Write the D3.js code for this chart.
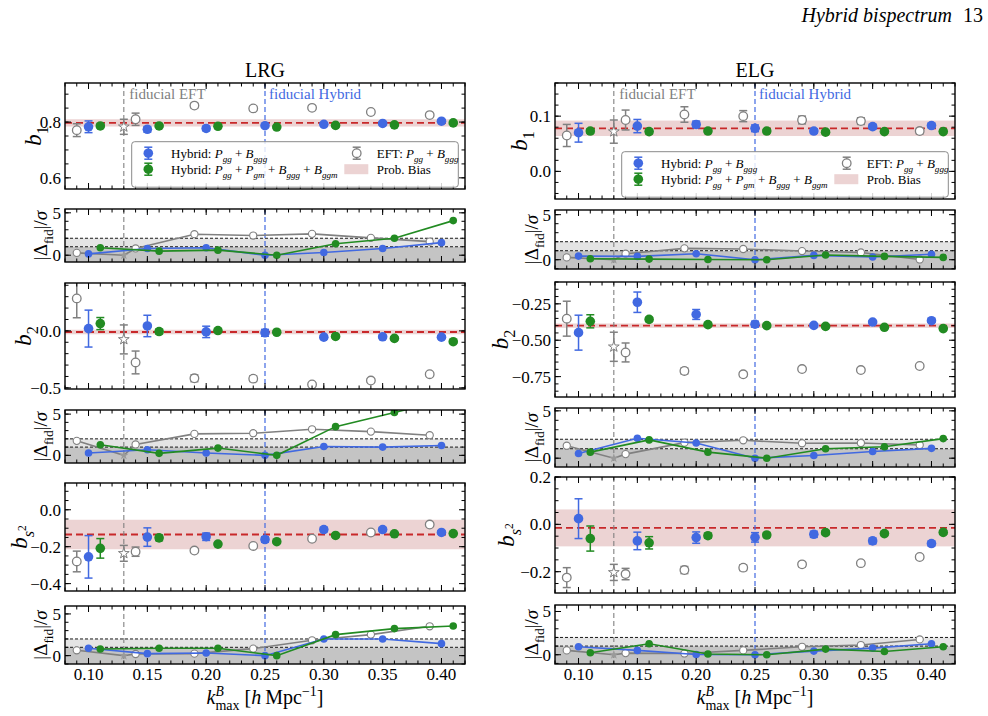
<!DOCTYPE html>
<html>
<head>
<meta charset="utf-8">
<script src="https://cdn.jsdelivr.net/npm/d3@7"></script>
<style>
  body { margin: 0; background: #fff; }
  text { font-family: "Liberation Serif", "DejaVu Serif", serif; }
</style>
</head>
<body>
<div id="chart"></div>
<script>
var W = 988, H = 716;

// k_max values of each series
var kBlue  = [0.10, 0.15, 0.20, 0.25, 0.30, 0.35, 0.40];
var kGreen = [0.11, 0.16, 0.21, 0.26, 0.31, 0.36, 0.41];
var kEft   = [0.09, 0.14, 0.19, 0.24, 0.29, 0.34, 0.39];
var kFidEft = 0.13, kFidHybrid = 0.25;
var xMajorTicks = [0.10, 0.15, 0.20, 0.25, 0.30, 0.35, 0.40];
var xTickLabels = ["0.10", "0.15", "0.20", "0.25", "0.30", "0.35", "0.40"];

// ---- LRG ----
var lrgB1Blue     = [0.783, 0.774, 0.777, 0.787, 0.792, 0.795, 0.803];
var lrgB1BlueErr  = [0.021, 0.010, 0.008, 0.006, 0.005, 0.005, 0.004];
var lrgB1Green    = [0.786, 0.786, 0.785, 0.782, 0.788, 0.790, 0.797];
var lrgB1GreenErr = [0.006, 0.005, 0.005, 0.004, 0.004, 0.004, 0.003];
var lrgB1Eft      = [0.771, 0.810, 0.859, 0.849, 0.851, 0.836, 0.825];
var lrgB1EftErr   = [0.023, 0.022, 0.008, 0.008, 0.006, 0.005, 0.004];
var lrgB1Star = [0.783, 0.027];
var lrgB1Prob = [0.797, 0.013];
var lrgB1DBlue  = [0.16, 0.80, 0.88, 0, 0.32, 0.80, 1.48];
var lrgB1DGreen = [0.88, 0.48, 0.60, 0, 1.36, 2.00, 4.08];
var lrgB1DEft   = [0.28, 0.80, 2.48, 2.32, 2.52, 2.04, 1.60];

var lrgB2Blue     = [0.020, 0.043, -0.009, -0.017, -0.055, -0.052, -0.055];
var lrgB2BlueErr  = [0.162, 0.094, 0.050, 0.030, 0.015, 0.015, 0.012];
var lrgB2Green    = [0.064, -0.006, 0.003, -0.012, -0.049, -0.066, -0.095];
var lrgB2GreenErr = [0.053, 0.020, 0.012, 0.010, 0.010, 0.010, 0.010];
var lrgB2Eft      = [0.285, -0.277, -0.416, -0.419, -0.470, -0.436, -0.380];
var lrgB2EftErr   = [0.170, 0.100, 0.030, 0.025, 0.015, 0.015, 0.012];
var lrgB2Star = [-0.075, 0.127];
var lrgB2Prob = [-0.010, 0.020];
var lrgB2DBlue  = [0.28, 0.68, 0.28, 0, 1.08, 1.00, 1.20];
var lrgB2DGreen = [1.28, 0.24, 0.88, 0, 3.48, 5.20, 6.90];
var lrgB2DEft   = [1.76, 1.32, 2.60, 2.68, 3.16, 2.88, 2.44];

var lrgBs2Blue     = [-0.255, -0.148, -0.146, -0.161, -0.107, -0.107, -0.123];
var lrgBs2BlueErr  = [0.115, 0.050, 0.020, 0.015, 0.012, 0.010, 0.008];
var lrgBs2Green    = [-0.209, -0.152, -0.186, -0.173, -0.139, -0.130, -0.129];
var lrgBs2GreenErr = [0.053, 0.015, 0.008, 0.006, 0.006, 0.006, 0.005];
var lrgBs2Eft      = [-0.280, -0.227, -0.221, -0.196, -0.157, -0.123, -0.080];
var lrgBs2EftErr   = [0.056, 0.025, 0.010, 0.008, 0.006, 0.005, 0.004];
var lrgBs2Star = [-0.236, 0.043];
var lrgBs2Prob = [-0.134, 0.080];
var lrgBs2DBlue  = [0.88, 0.24, 0.32, 0, 2.00, 2.00, 1.44];
var lrgBs2DGreen = [0.80, 0.88, 0.88, 0, 2.52, 3.24, 3.56];
var lrgBs2DEft   = [0.64, 0.20, 0.24, 0.84, 1.84, 2.52, 3.52];

// ---- ELG ----
var elgB1Blue     = [0.070, 0.082, 0.085, 0.078, 0.073, 0.081, 0.083];
var elgB1BlueErr  = [0.017, 0.012, 0.006, 0.006, 0.004, 0.004, 0.004];
var elgB1Green    = [0.073, 0.072, 0.073, 0.073, 0.071, 0.072, 0.072];
var elgB1GreenErr = [0.004, 0.004, 0.003, 0.003, 0.003, 0.003, 0.003];
var elgB1Eft      = [0.065, 0.093, 0.103, 0.100, 0.093, 0.091, 0.073];
var elgB1EftErr   = [0.020, 0.018, 0.014, 0.010, 0.007, 0.006, 0.005];
var elgB1Star = [0.072, 0.021];
var elgB1Prob = [0.078, 0.014];
var elgB1DBlue  = [0.40, 0.37, 0.67, 0, 0.48, 0.30, 0.60];
var elgB1DGreen = [0.11, 0.07, 0.02, 0, 0.52, 0.37, 0.26];
var elgB1DEft   = [0.26, 0.67, 1.26, 1.19, 0.96, 0.81, 0.03];

var elgB2Blue     = [-0.448, -0.239, -0.323, -0.390, -0.398, -0.375, -0.366];
var elgB2BlueErr  = [0.120, 0.070, 0.034, 0.020, 0.010, 0.010, 0.010];
var elgB2Green    = [-0.370, -0.357, -0.393, -0.400, -0.405, -0.411, -0.420];
var elgB2GreenErr = [0.045, 0.014, 0.010, 0.008, 0.008, 0.008, 0.008];
var elgB2Eft      = [-0.352, -0.584, -0.711, -0.734, -0.698, -0.705, -0.677];
var elgB2EftErr   = [0.120, 0.065, 0.020, 0.015, 0.010, 0.010, 0.010];
var elgB2Star = [-0.545, 0.100];
var elgB2Prob = [-0.400, 0.015];
var elgB2DBlue  = [0.50, 2.10, 1.60, 0, 0.29, 0.71, 1.04];
var elgB2DGreen = [0.64, 1.93, 0.64, 0, 1.00, 1.21, 2.07];
var elgB2DEft   = [1.32, 0.43, 1.64, 1.89, 1.57, 1.60, 1.39];

var elgBs2Blue     = [0.024, -0.070, -0.056, -0.055, -0.042, -0.070, -0.081];
var elgBs2BlueErr  = [0.084, 0.037, 0.024, 0.020, 0.013, 0.012, 0.010];
var elgBs2Green    = [-0.060, -0.078, -0.048, -0.045, -0.035, -0.039, -0.034];
var elgBs2GreenErr = [0.053, 0.026, 0.010, 0.008, 0.008, 0.008, 0.008];
var elgBs2Eft      = [-0.225, -0.210, -0.193, -0.183, -0.169, -0.164, -0.138];
var elgBs2EftErr   = [0.042, 0.024, 0.015, 0.012, 0.010, 0.009, 0.008];
var elgBs2Star = [-0.203, 0.034];
var elgBs2Prob = [-0.015, 0.078];
var elgBs2DBlue  = [0.92, 0.50, 0.02, 0, 0.42, 0.77, 1.27];
var elgBs2DGreen = [0.23, 1.27, 0.08, 0, 0.65, 0.38, 0.92];
var elgBs2DEft   = [0.50, 0.19, 0.15, 0.50, 0.92, 1.12, 1.77];

var BLUE = "#4169e1", GREEN = "#228b22", GRAY = "#808080", RED = "#c8282a";

var svg = d3.select("#chart").append("svg")
  .attr("width", W)
  .attr("height", H);
var defs = svg.append("defs");
var clipCount = 0;

// text with italic / sub / superscript pieces: [str, italic, baselineOffset(em), scale, stackUnderPrevious]
function rich(txt, segs, fs) {
  var off = 0, prev = null;
  segs.forEach(function(s) {
    var yo = (s[2] || 0) * fs, sc = s[3] || 1;
    var t = txt.append("tspan").text(s[0]).attr("dy", yo - off);
    off = yo;
    if (s[1]) t.style("font-style", "italic");
    if (sc !== 1) t.attr("font-size", fs * sc);
    if (s[4] && prev) t.attr("dx", -prev.node().getComputedTextLength());
    prev = t;
  });
}

var cols = [
  {name: "LRG", x0: 65, x1: 465},
  {name: "ELG", x0: 555, x1: 955}
];

var rows = [
  // LRG
  {col: 0, top: 83, bot: 189, dom: [0.56, 0.94], major: [0.6, 0.8], labels: ["0.6", "0.8"], minor: 0.05,
   lab: [["b", 1], ["1", 0, 0.3, 0.7]], labX: 41,
   blue: lrgB1Blue, blueErr: lrgB1BlueErr, green: lrgB1Green, greenErr: lrgB1GreenErr,
   eft: lrgB1Eft, eftErr: lrgB1EftErr, star: lrgB1Star, prob: lrgB1Prob,
   d: {top: 209, bot: 262, dom: [-0.8, 5.45], blue: lrgB1DBlue, green: lrgB1DGreen, eft: lrgB1DEft, labX: 47}},
  {col: 0, top: 283, bot: 389, dom: [-0.51, 0.42], major: [-0.5, 0.0], labels: ["\u22120.5", "0.0"], minor: 0.1,
   lab: [["b", 1], ["2", 0, 0.3, 0.7]], labX: 31,
   blue: lrgB2Blue, blueErr: lrgB2BlueErr, green: lrgB2Green, greenErr: lrgB2GreenErr,
   eft: lrgB2Eft, eftErr: lrgB2EftErr, star: lrgB2Star, prob: lrgB2Prob,
   d: {top: 410, bot: 463, dom: [-0.93, 5.5], blue: lrgB2DBlue, green: lrgB2DGreen, eft: lrgB2DEft, labX: 47}},
  {col: 0, top: 483, bot: 591, dom: [-0.44, 0.145], major: [-0.4, -0.2, 0.0], labels: ["\u22120.4", "\u22120.2", "0.0"], minor: 0.05,
   lab: [["b", 1], ["s", 1, 0.3, 0.7], ["2", 0, -0.05, 0.5]], labX: 27,
   blue: lrgBs2Blue, blueErr: lrgBs2BlueErr, green: lrgBs2Green, greenErr: lrgBs2GreenErr,
   eft: lrgBs2Eft, eftErr: lrgBs2EftErr, star: lrgBs2Star, prob: lrgBs2Prob,
   d: {top: 606, bot: 664, dom: [-1.0, 5.95], blue: lrgBs2DBlue, green: lrgBs2DGreen, eft: lrgBs2DEft, labX: 47}},
  // ELG
  {col: 1, top: 83, bot: 199, dom: [-0.05, 0.16], major: [0.0, 0.1], labels: ["0.0", "0.1"], minor: 0.02,
   lab: [["b", 1], ["1", 0, 0.3, 0.7]], labX: 527,
   blue: elgB1Blue, blueErr: elgB1BlueErr, green: elgB1Green, greenErr: elgB1GreenErr,
   eft: elgB1Eft, eftErr: elgB1EftErr, star: elgB1Star, prob: elgB1Prob,
   d: {top: 210, bot: 269, dom: [-1.03, 5.52], blue: elgB1DBlue, green: elgB1DGreen, eft: elgB1DEft, labX: 538}},
  {col: 1, top: 282, bot: 397, dom: [-0.89, -0.1], major: [-0.75, -0.5, -0.25], labels: ["\u22120.75", "\u22120.50", "\u22120.25"], minor: 0.05,
   lab: [["b", 1], ["2", 0, 0.3, 0.7]], labX: 508,
   blue: elgB2Blue, blueErr: elgB2BlueErr, green: elgB2Green, greenErr: elgB2GreenErr,
   eft: elgB2Eft, eftErr: elgB2EftErr, star: elgB2Star, prob: elgB2Prob,
   d: {top: 408, bot: 467, dom: [-0.93, 5.3], blue: elgB2DBlue, green: elgB2DGreen, eft: elgB2DEft, labX: 538}},
  {col: 1, top: 477, bot: 593, dom: [-0.29, 0.2], major: [-0.2, 0.0, 0.2], labels: ["\u22120.2", "0.0", "0.2"], minor: 0.05,
   lab: [["b", 1], ["s", 1, 0.3, 0.7], ["2", 0, -0.05, 0.5]], labX: 514,
   blue: elgBs2Blue, blueErr: elgBs2BlueErr, green: elgBs2Green, greenErr: elgBs2GreenErr,
   eft: elgBs2Eft, eftErr: elgBs2EftErr, star: elgBs2Star, prob: elgBs2Prob,
   d: {top: 605, bot: 664, dom: [-1.07, 5.75], blue: elgBs2DBlue, green: elgBs2DGreen, eft: elgBs2DEft, labX: 538}}
];

function makeClip(w, h) {
  var id = "clip" + (clipCount++);
  defs.append("clipPath").attr("id", id)
    .append("rect").attr("width", w).attr("height", h);
  return "url(#" + id + ")";
}

function frameAndTicks(g, x, y, w, h, yMajor, yLabels, yMinorStep, showX) {
  var xMinor = d3.range(8, 43).map(function(i) { return i / 100; });
  var dom = y.domain();
  var yMinor = d3.range(Math.ceil(dom[0] / yMinorStep - 1e-6), Math.floor(dom[1] / yMinorStep + 1e-6) + 1)
    .map(function(i) { return i * yMinorStep; });
  var t = g.append("g").attr("stroke", "#000").attr("stroke-width", 1);
  xMinor.forEach(function(v) {
    t.append("line").attr("x1", x(v)).attr("x2", x(v)).attr("y1", h).attr("y2", h - 3.5);
    t.append("line").attr("x1", x(v)).attr("x2", x(v)).attr("y1", 0).attr("y2", 3.5);
  });
  xMajorTicks.forEach(function(v) {
    t.append("line").attr("x1", x(v)).attr("x2", x(v)).attr("y1", h).attr("y2", h - 6);
    t.append("line").attr("x1", x(v)).attr("x2", x(v)).attr("y1", 0).attr("y2", 6);
  });
  yMinor.forEach(function(v) {
    t.append("line").attr("x1", 0).attr("x2", 3.5).attr("y1", y(v)).attr("y2", y(v));
    t.append("line").attr("x1", w).attr("x2", w - 3.5).attr("y1", y(v)).attr("y2", y(v));
  });
  yMajor.forEach(function(v, i) {
    t.append("line").attr("x1", 0).attr("x2", 6).attr("y1", y(v)).attr("y2", y(v));
    t.append("line").attr("x1", w).attr("x2", w - 6).attr("y1", y(v)).attr("y2", y(v));
    g.append("text")
      .attr("x", -4).attr("y", y(v)).attr("dy", "0.35em")
      .attr("text-anchor", "end").attr("font-size", 17)
      .text(yLabels[i]);
  });
  if (showX) {
    xMajorTicks.forEach(function(v, i) {
      g.append("text")
        .attr("x", x(v)).attr("y", h + 16)
        .attr("text-anchor", "middle").attr("font-size", 17)
        .text(xTickLabels[i]);
    });
  }
  g.append("rect").attr("width", w).attr("height", h)
    .attr("fill", "none").attr("stroke", "#000").attr("stroke-width", 1.4);
}

function vlines(m, x, h) {
  m.append("line").attr("x1", x(kFidEft)).attr("x2", x(kFidEft)).attr("y1", 0).attr("y2", h)
    .attr("stroke", GRAY).attr("stroke-width", 1.1).attr("stroke-dasharray", "5,3");
  m.append("line").attr("x1", x(kFidHybrid)).attr("x2", x(kFidHybrid)).attr("y1", 0).attr("y2", h)
    .attr("stroke", BLUE).attr("stroke-width", 1.2).attr("stroke-dasharray", "5,3");
}

function errbars(m, x, y, ks, vals, errs, color, open) {
  var g = m.append("g");
  ks.forEach(function(k, i) {
    var cx = x(k), lo = y(vals[i] - errs[i]), hi = y(vals[i] + errs[i]);
    g.append("line").attr("x1", cx).attr("x2", cx).attr("y1", lo).attr("y2", hi)
      .attr("stroke", color).attr("stroke-width", 1.5);
    [lo, hi].forEach(function(yy) {
      g.append("line").attr("x1", cx - 4).attr("x2", cx + 4).attr("y1", yy).attr("y2", yy)
        .attr("stroke", color).attr("stroke-width", 1.5);
    });
    g.append("circle").attr("cx", cx).attr("cy", y(vals[i])).attr("r", open ? 4.3 : 4.8)
      .attr("fill", open ? "#fff" : color)
      .attr("stroke", open ? color : "none").attr("stroke-width", 1.3);
  });
}

function mainPanel(r) {
  var c = cols[r.col], w = c.x1 - c.x0, h = r.bot - r.top;
  var g = svg.append("g").attr("transform", "translate(" + c.x0 + "," + r.top + ")");
  var x = d3.scaleLinear().domain([0.08, 0.42]).range([0, w]);
  var y = d3.scaleLinear().domain(r.dom).range([h, 0]);
  var m = g.append("g").attr("clip-path", makeClip(w, h));

  m.append("rect").attr("x", 0).attr("width", w)
    .attr("y", y(r.prob[0] + r.prob[1]))
    .attr("height", y(r.prob[0] - r.prob[1]) - y(r.prob[0] + r.prob[1]))
    .attr("fill", "#ecd3d3");
  m.append("line").attr("x1", 0).attr("x2", w).attr("y1", y(r.prob[0])).attr("y2", y(r.prob[0]))
    .attr("stroke", RED).attr("stroke-width", 1.8).attr("stroke-dasharray", "7,4");
  vlines(m, x, h);

  errbars(m, x, y, kEft, r.eft, r.eftErr, GRAY, true);
  // fiducial EFT point (star)
  var sx = x(kFidEft), sy = y(r.star[0]);
  m.append("line").attr("x1", sx).attr("x2", sx).attr("y1", y(r.star[0] - r.star[1])).attr("y2", y(r.star[0] + r.star[1]))
    .attr("stroke", GRAY).attr("stroke-width", 1.5);
  [r.star[0] - r.star[1], r.star[0] + r.star[1]].forEach(function(v) {
    m.append("line").attr("x1", sx - 4).attr("x2", sx + 4).attr("y1", y(v)).attr("y2", y(v))
      .attr("stroke", GRAY).attr("stroke-width", 1.5);
  });
  m.append("path").attr("d", d3.symbol().type(d3.symbolStar).size(36)())
    .attr("transform", "translate(" + sx + "," + sy + ")")
    .attr("fill", "#fff").attr("stroke", GRAY).attr("stroke-width", 1);

  errbars(m, x, y, kBlue, r.blue, r.blueErr, BLUE, false);
  errbars(m, x, y, kGreen, r.green, r.greenErr, GREEN, false);

  frameAndTicks(g, x, y, w, h, r.major, r.labels, r.minor, false);

  var lt = svg.append("text")
    .attr("transform", "translate(" + r.labX + "," + (r.top + h / 2) + ") rotate(-90)")
    .attr("text-anchor", "middle").attr("font-size", 23);
  rich(lt, r.lab, 23);
  return {g: g, x: x, y: y, w: w, h: h};
}

function deltaPanel(r, showX) {
  var c = cols[r.col], d = r.d, w = c.x1 - c.x0, h = d.bot - d.top;
  var g = svg.append("g").attr("transform", "translate(" + c.x0 + "," + d.top + ")");
  var x = d3.scaleLinear().domain([0.08, 0.42]).range([0, w]);
  var y = d3.scaleLinear().domain(d.dom).range([h, 0]);
  var m = g.append("g").attr("clip-path", makeClip(w, h));

  m.append("rect").attr("x", 0).attr("width", w).attr("y", y(1)).attr("height", h - y(1)).attr("fill", "#c4c4c4");
  m.append("rect").attr("x", 0).attr("width", w).attr("y", y(2)).attr("height", y(1) - y(2)).attr("fill", "#e4e4e4");
  [1, 2].forEach(function(v) {
    m.append("line").attr("x1", 0).attr("x2", w).attr("y1", y(v)).attr("y2", y(v))
      .attr("stroke", "#000").attr("stroke-width", 0.9).attr("stroke-dasharray", "3,2");
  });
  vlines(m, x, h);

  var line = d3.line().x(function(p) { return x(p[0]); }).y(function(p) { return y(p[1]); });

  // EFT, with the fiducial star (zero by construction)
  var eftPts = [[kEft[0], d.eft[0]], [kFidEft, 0]].concat(kEft.slice(1).map(function(k, i) { return [k, d.eft[i + 1]]; }));
  m.append("path").datum(eftPts).attr("d", line).attr("fill", "none").attr("stroke", GRAY).attr("stroke-width", 1.6);
  kEft.forEach(function(k, i) {
    m.append("circle").attr("cx", x(k)).attr("cy", y(d.eft[i])).attr("r", 3.6)
      .attr("fill", "#fff").attr("stroke", GRAY).attr("stroke-width", 1.1);
  });
  m.append("path").attr("d", d3.symbol().type(d3.symbolStar).size(28)())
    .attr("transform", "translate(" + x(kFidEft) + "," + y(0) + ")")
    .attr("fill", "#9a9a9a");

  [[kBlue, d.blue, BLUE], [kGreen, d.green, GREEN]].forEach(function(s) {
    var pts = s[0].map(function(k, i) { return [k, s[1][i]]; });
    m.append("path").datum(pts).attr("d", line).attr("fill", "none").attr("stroke", s[2]).attr("stroke-width", 1.6);
    pts.forEach(function(p) {
      m.append("circle").attr("cx", x(p[0])).attr("cy", y(p[1])).attr("r", 3.8).attr("fill", s[2]);
    });
  });

  frameAndTicks(g, x, y, w, h, [0, 5], ["0", "5"], 1, showX);

  var lt = svg.append("text")
    .attr("transform", "translate(" + d.labX + "," + (d.top + h / 2) + ") rotate(-90)")
    .attr("text-anchor", "middle").attr("font-size", 19);
  rich(lt, [["|\u0394", 0], ["fid", 0, 0.3, 0.7], ["|/", 0], ["\u03c3", 1]], 19);
}

rows.forEach(function(r, i) {
  var p = mainPanel(r);
  deltaPanel(r, i % 3 === 2);

  if (i % 3 === 0) {
    var c = cols[r.col];
    // column title
    svg.append("text").attr("x", (c.x0 + c.x1) / 2).attr("y", 77)
      .attr("text-anchor", "middle").attr("font-size", 20).text(c.name);
    // fiducial labels
    p.g.append("text").attr("x", p.x(kFidEft) + 5.5).attr("y", 16)
      .attr("font-size", 15).attr("fill", GRAY).text("fiducial EFT");
    p.g.append("text").attr("x", p.x(kFidHybrid) + 4).attr("y", 16)
      .attr("font-size", 15).attr("fill", BLUE).text("fiducial Hybrid");

    // legend
    var lx = c.x0 + 66.7, ly = r.col === 0 ? 141.7 : 151.7;
    var lg = svg.append("g").attr("transform", "translate(" + lx + "," + ly + ")");
    lg.append("rect").attr("width", 326.6).attr("height", 45.5).attr("rx", 3)
      .attr("fill", "#fff").attr("fill-opacity", 0.82)
      .attr("stroke", "#8a8a8a").attr("stroke-width", 1);
    var rowsY = [11.5, 27.5];
    function legMarker(mx, my, color, open) {
      lg.append("line").attr("x1", mx).attr("x2", mx).attr("y1", my - 6).attr("y2", my + 6)
        .attr("stroke", color).attr("stroke-width", 1.5);
      [my - 6, my + 6].forEach(function(yy) {
        lg.append("line").attr("x1", mx - 4).attr("x2", mx + 4).attr("y1", yy).attr("y2", yy)
          .attr("stroke", color).attr("stroke-width", 1.5);
      });
      lg.append("circle").attr("cx", mx).attr("cy", my).attr("r", open ? 4.3 : 4.8)
        .attr("fill", open ? "#fff" : color).attr("stroke", open ? color : "none").attr("stroke-width", 1.3);
    }
    legMarker(16.6, rowsY[0], BLUE, false);
    legMarker(16.6, rowsY[1], GREEN, false);
    legMarker(225, rowsY[0], GRAY, true);
    lg.append("rect").attr("x", 212.6).attr("y", rowsY[1] - 5).attr("width", 24).attr("height", 10).attr("fill", "#ecd3d3");

    var t1 = lg.append("text").attr("x", 39.3).attr("y", rowsY[0] + 4.5).attr("font-size", 13);
    rich(t1, [["Hybrid: "], ["P", 1], ["gg", 1, 0.3, 0.7], [" + "], ["B", 1], ["ggg", 1, 0.3, 0.7]], 13);
    var t2 = lg.append("text").attr("x", 39.3).attr("y", rowsY[1] + 4.5).attr("font-size", 13);
    rich(t2, [["Hybrid: "], ["P", 1], ["gg", 1, 0.3, 0.7], [" + "], ["P", 1], ["gm", 1, 0.3, 0.7],
              [" + "], ["B", 1], ["ggg", 1, 0.3, 0.7], [" + "], ["B", 1], ["ggm", 1, 0.3, 0.7]], 13);
    var t3 = lg.append("text").attr("x", 245).attr("y", rowsY[0] + 4.5).attr("font-size", 13);
    rich(t3, [["EFT: "], ["P", 1], ["gg", 1, 0.3, 0.7], [" + "], ["B", 1], ["ggg", 1, 0.3, 0.7]], 13);
    lg.append("text").attr("x", 245).attr("y", rowsY[1] + 4.5).attr("font-size", 13).text("Prob. Bias");
  }
});

// x-axis titles
cols.forEach(function(c) {
  var t = svg.append("text").attr("x", (c.x0 + c.x1) / 2).attr("y", 704)
    .attr("text-anchor", "middle").attr("font-size", 20);
  rich(t, [["k", 1], ["B", 1, -0.42, 0.68], ["max", 0, 0.3, 0.7, true], [" [", 0], ["h", 1], ["\u2009Mpc", 0],
           ["\u22121", 0, -0.4, 0.7], ["]", 0]], 20);
});

// page header
svg.append("text").attr("x", 952).attr("y", 22).attr("font-size", 20)
  .attr("text-anchor", "end").style("font-style", "italic").text("Hybrid bispectrum");
svg.append("text").attr("x", 963).attr("y", 22).attr("font-size", 20).text("13");
</script>
</body>
</html>
